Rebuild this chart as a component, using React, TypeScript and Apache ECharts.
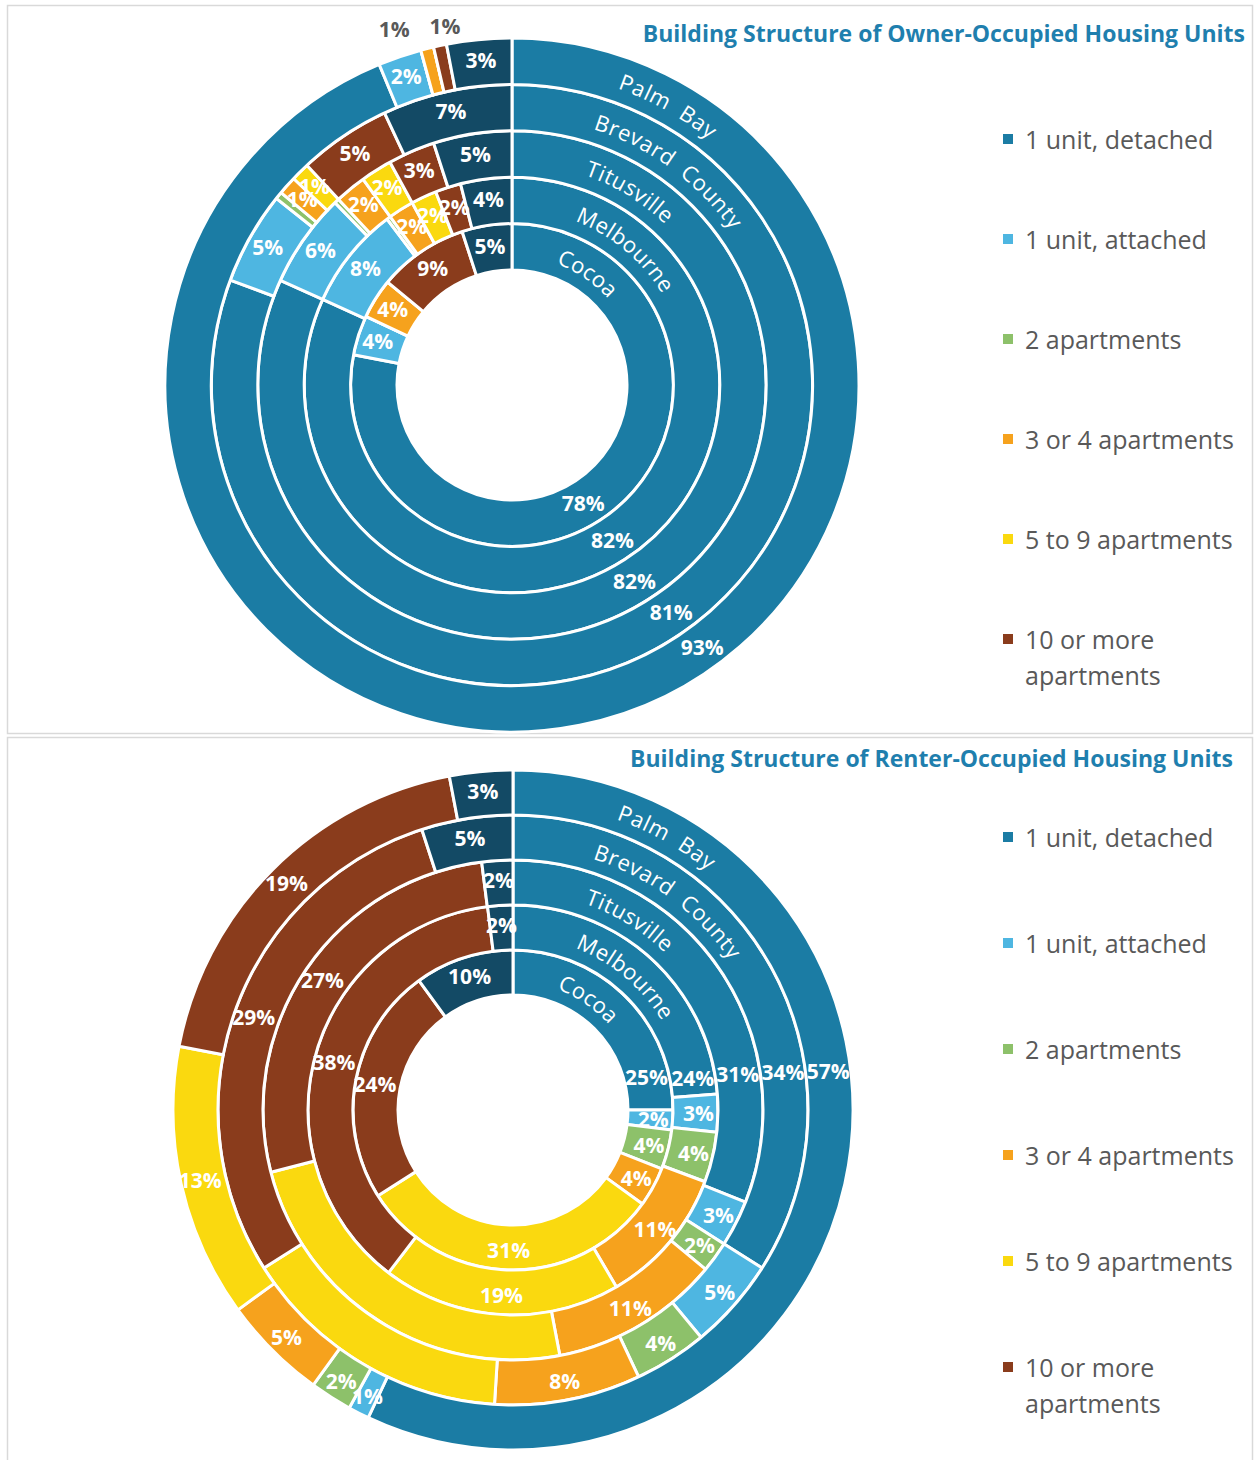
import React, { useEffect, useRef } from "react";
import * as echarts from "echarts";

// ---------- data ----------
const CATEGORIES = [
  "1 unit, detached",
  "1 unit, attached",
  "2 apartments",
  "3 or 4 apartments",
  "5 to 9 apartments",
  "10 or more apartments",
  "Mobile home, boat, RV, van, etc.",
];
const LEGEND_CATEGORIES = CATEGORIES.slice(0, 6);
const COLORS = ["#1b7ca4", "#4eb6e1", "#8dc16a", "#f6a21d", "#fad90f", "#8a3c1c", "#134a65"];
const RINGS = ["Cocoa", "Melbourne", "Titusville", "Brevard  County", "Palm  Bay"];

const OWNER_COCOA = [78, 4, 0, 4, 0, 9, 5];
const OWNER_MELBOURNE = [82, 8, 0.3, 2, 2, 2, 4];
const OWNER_TITUSVILLE = [82, 6, 0.3, 2, 2, 3, 5];
const OWNER_BREVARD = [81, 5, 0.4, 1, 1, 5, 7];
const OWNER_PALM_BAY = [93, 2, 0, 0.6, 0, 0.6, 3];

const RENTER_COCOA = [25, 2, 4, 4, 31, 24, 10];
const RENTER_MELBOURNE = [24, 3, 4, 11, 19, 38, 2];
const RENTER_TITUSVILLE = [31, 3, 2, 11, 24, 27, 2];
const RENTER_BREVARD = [34, 5, 4, 8, 15, 29, 5];
const RENTER_PALM_BAY = [57, 1, 2, 5, 13, 19, 3];

const OWNER_TITLE = "Building Structure of Owner-Occupied Housing Units";
const RENTER_TITLE = "Building Structure of Renter-Occupied Housing Units";

// ---------- layout ----------
const FONT = '"Open Sans", "Noto Sans", sans-serif';
const RING_NAME_START = [20, 21, 19, 17.5, 19.5];
// legend icons: a 10x10 square inside a 10x72 box
const ICON_MIDDLE = "path://M0,0L0,0M0,31L10,31L10,41L0,41ZM0,72L0,72";
const ICON_FIRST_LINE = "path://M0,0L0,0M0,22L10,22L10,32L0,32ZM0,72L0,72";

const CHARTS = [
  {
    key: "Owner",
    title: OWNER_TITLE,
    rings: [OWNER_COCOA, OWNER_MELBOURNE, OWNER_TITUSVILLE, OWNER_BREVARD, OWNER_PALM_BAY],
    cx: 512,
    cy: 385,
    r0: 115,
    step: 46.4,
    titleTop: 21,
    titleRight: 10,
    legendTop: 103,
    legendGap: 28,
    detachedAngles: [149, 147, 148, 145, 144],
    hidden: [] as number[][],
    outside: [
      [4, 3, -28],
      [4, 5, 9],
    ],
  },
  {
    key: "Renter",
    title: RENTER_TITLE,
    rings: [RENTER_COCOA, RENTER_MELBOURNE, RENTER_TITUSVILLE, RENTER_BREVARD, RENTER_PALM_BAY],
    cx: 513,
    cy: 1110,
    r0: 115,
    step: 45,
    titleTop: 746,
    titleRight: 22,
    legendTop: 801,
    legendGap: 34,
    detachedAngles: [76, 80, 81, 82, 83],
    hidden: [
      [2, 4],
      [3, 4],
    ],
    outside: [] as number[][],
  },
];

let measureCtx: CanvasRenderingContext2D | null = null;
function measure(text: string, font: string): number {
  if (!measureCtx) measureCtx = document.createElement("canvas").getContext("2d");
  if (!measureCtx) return text.length * 11;
  measureCtx.font = font;
  return measureCtx.measureText(text).width;
}

function polar(cx: number, cy: number, r: number, deg: number) {
  const a = (deg * Math.PI) / 180;
  return { x: cx + r * Math.sin(a), y: cy - r * Math.cos(a) };
}

function buildOption() {
  const series: any[] = [];
  const graphic: any[] = [
    {
      type: "rect",
      shape: { x: 7.5, y: 5.5, width: 1245, height: 728 },
      style: { fill: "none", stroke: "#d9d9d9", lineWidth: 1.5 },
      silent: true,
    },
    {
      type: "rect",
      shape: { x: 7.5, y: 737.5, width: 1245, height: 730 },
      style: { fill: "none", stroke: "#d9d9d9", lineWidth: 1.5 },
      silent: true,
    },
  ];

  CHARTS.forEach((c) => {
    c.rings.forEach((values, i) => {
      const rIn = c.r0 + i * c.step;
      const rOut = c.r0 + (i + 1) * c.step;
      const rMid = (rIn + rOut) / 2;
      const total = values.reduce((a, b) => a + b, 0);
      const cum: number[] = [];
      let acc = 0;
      values.forEach((v) => {
        cum.push(acc);
        acc += v;
      });
      series.push({
        type: "pie",
        name: c.key + " " + RINGS[i].replace(/\s+/g, " "),
        center: [c.cx, c.cy],
        radius: [rIn, rOut],
        startAngle: 90,
        clockwise: true,
        avoidLabelOverlap: false,
        silent: true,
        minShowLabelAngle: 0,
        itemStyle: { borderColor: "#fff", borderWidth: 3 },
        label: {
          show: true,
          position: "inside",
          formatter: (p: any) => Math.round(p.value) + "%",
          color: "#fff",
          fontFamily: FONT,
          fontWeight: "bold",
          fontSize: 21,
        },
        labelLine: { show: false },
        emphasis: { disabled: true },
        data: values.map((v, j) => {
          const isHidden = v < 0.5 || c.hidden.some((h) => h[0] === i && h[1] === j);
          const isOutside = c.outside.some((o) => o[0] === i && o[1] === j);
          const item: any = { name: CATEGORIES[j], value: v, itemStyle: { color: COLORS[j] } };
          if (isHidden) item.label = { show: false };
          else if (isOutside) item.label = { color: "#595959" };
          return item;
        }),
        labelLayout: (p: any) => {
          const j = p.dataIndex;
          if (j === 0) {
            const pt = polar(c.cx, c.cy, rMid, c.detachedAngles[i]);
            return { x: pt.x, y: pt.y, align: "center", verticalAlign: "middle" };
          }
          const o = c.outside.find((q) => q[0] === i && q[1] === j);
          if (o) {
            const mid = ((cum[j] + values[j] / 2) / total) * 360;
            const pt = polar(c.cx, c.cy, c.r0 + 5 * c.step + 20, mid);
            return { x: pt.x + o[2], y: pt.y, align: "center", verticalAlign: "middle" };
          }
          return {};
        },
      });

      // curved ring name
      const nameFont = `22px ${FONT}`;
      const spacing = 1;
      let ang = RING_NAME_START[i];
      for (const ch of RINGS[i]) {
        const w = measure(ch, nameFont) + spacing;
        const dAng = (w / rMid) * (180 / Math.PI);
        const centerAng = ang + dAng / 2;
        if (ch !== " ") {
          const pt = polar(c.cx, c.cy, rMid, centerAng);
          graphic.push({
            type: "text",
            x: pt.x,
            y: pt.y,
            rotation: (-centerAng * Math.PI) / 180,
            silent: true,
            z: 100,
            style: {
              text: ch,
              fill: "#fff",
              font: nameFont,
              align: "center",
              verticalAlign: "middle",
            },
          });
        }
        ang += dAng;
      }
    });
  });

  return {
    animation: false,
    backgroundColor: "#fff",
    title: CHARTS.map((c) => ({
      text: c.title,
      right: c.titleRight,
      top: c.titleTop,
      padding: 0,
      textStyle: { fontFamily: FONT, fontSize: 23, fontWeight: "bold", color: "#1f7fae" },
    })),
    legend: CHARTS.map((c) => ({
      orient: "vertical",
      left: 1003,
      top: c.legendTop,
      height: 700,
      padding: 0,
      itemGap: c.legendGap,
      itemWidth: 10,
      itemHeight: 72,
      symbolKeepAspect: true,
      itemStyle: { borderWidth: 0 },
      selectedMode: false,
      data: LEGEND_CATEGORIES.map((n, k) => ({
        name: n,
        icon: k === 5 ? ICON_FIRST_LINE : ICON_MIDDLE,
      })),
      formatter: (n: string) =>
        n === "10 or more apartments" ? "{gap| }\n10 or more\napartments" : n,
      textStyle: {
        fontFamily: FONT,
        fontSize: 25,
        color: "#595959",
        lineHeight: 36,
        padding: [0, 0, 0, 7],
        rich: { gap: { fontSize: 1, lineHeight: 18 } },
      },
    })),
    graphic,
    series,
  };
}

export default function App() {
  const ref = useRef<HTMLDivElement>(null);
  useEffect(() => {
    if (!ref.current) return;
    const chart = echarts.init(ref.current, null, { renderer: "svg" });
    chart.setOption(buildOption() as any);
    return () => chart.dispose();
  }, []);
  return (
    <div
      ref={ref}
      style={{ position: "absolute", left: 0, top: 0, width: 1255, height: 1460, background: "#fff" }}
    />
  );
}
